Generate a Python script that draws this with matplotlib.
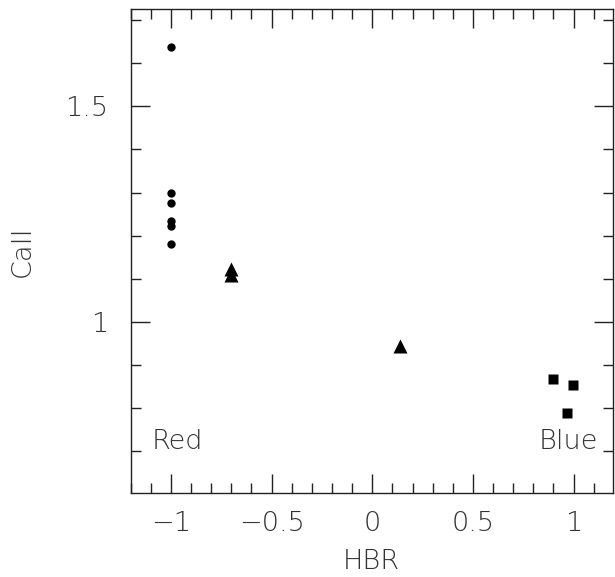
import matplotlib
matplotlib.use("Agg")
import matplotlib.pyplot as plt
from matplotlib.ticker import MultipleLocator

# Red group (circles)
red_hbr = [-1.0, -1.0, -1.0, -1.0, -1.0, -1.0]
red_ca = [1.638, 1.299, 1.277, 1.234, 1.222, 1.181]
# Intermediate group (triangles)
mid_hbr = [-0.70, -0.70, 0.137]
mid_ca = [1.122, 1.108, 0.944]
# Blue group (squares)
blue_hbr = [0.897, 0.997, 0.967]
blue_ca = [0.867, 0.855, 0.789]

plt.rcParams['font.family'] = ['DejaVu Sans']

fig = plt.figure(figsize=(6.15, 5.77), dpi=100)
ax = fig.add_axes([0.2125, 0.145, 0.784, 0.839])

ax.plot(red_hbr, red_ca, 'o', color='black', ms=6, mec='none')
ax.plot(mid_hbr, mid_ca, '^', color='black', ms=9.5, mec='none')
ax.plot(blue_hbr, blue_ca, 's', color='black', ms=6.5, mec='none')

ax.set_xlim(-1.2, 1.195)
ax.set_ylim(0.603, 1.725)

ax.xaxis.set_major_locator(MultipleLocator(0.5))
ax.xaxis.set_minor_locator(MultipleLocator(0.1))
ax.yaxis.set_major_locator(MultipleLocator(0.5))
ax.yaxis.set_minor_locator(MultipleLocator(0.1))

def fmt(v, pos):
    s = ('%g' % v)
    return s.replace('-', '\u2212')

ax.xaxis.set_major_formatter(fmt)
ax.yaxis.set_major_formatter(fmt)

FS = 19.5
ax.tick_params(which='both', direction='in', top=True, right=True, width=1, color='#222')
ax.tick_params(which='major', length=14, labelsize=FS, labelcolor='#333')
ax.tick_params(axis='x', which='major', pad=13)
ax.tick_params(axis='y', which='major', pad=16)
ax.tick_params(which='minor', length=7)
for sp in ax.spines.values():
    sp.set_linewidth(1)
    sp.set_color('#222')

for lab in ax.get_xticklabels() + ax.get_yticklabels():
    lab.set_fontweight('light')

ax.set_xlabel('HBR', fontsize=FS, color='#333', labelpad=9, fontweight='light')
ax.set_ylabel('CaII', fontsize=FS, color='#333', labelpad=22, fontweight='light')

ax.text(-1.096, 0.724, 'Red', fontsize=FS, color='#333', ha='left', va='center', fontweight='light')
ax.text(1.119, 0.724, 'Blue', fontsize=FS, color='#333', ha='right', va='center', fontweight='light')

fig.savefig('out.png', dpi=100)
